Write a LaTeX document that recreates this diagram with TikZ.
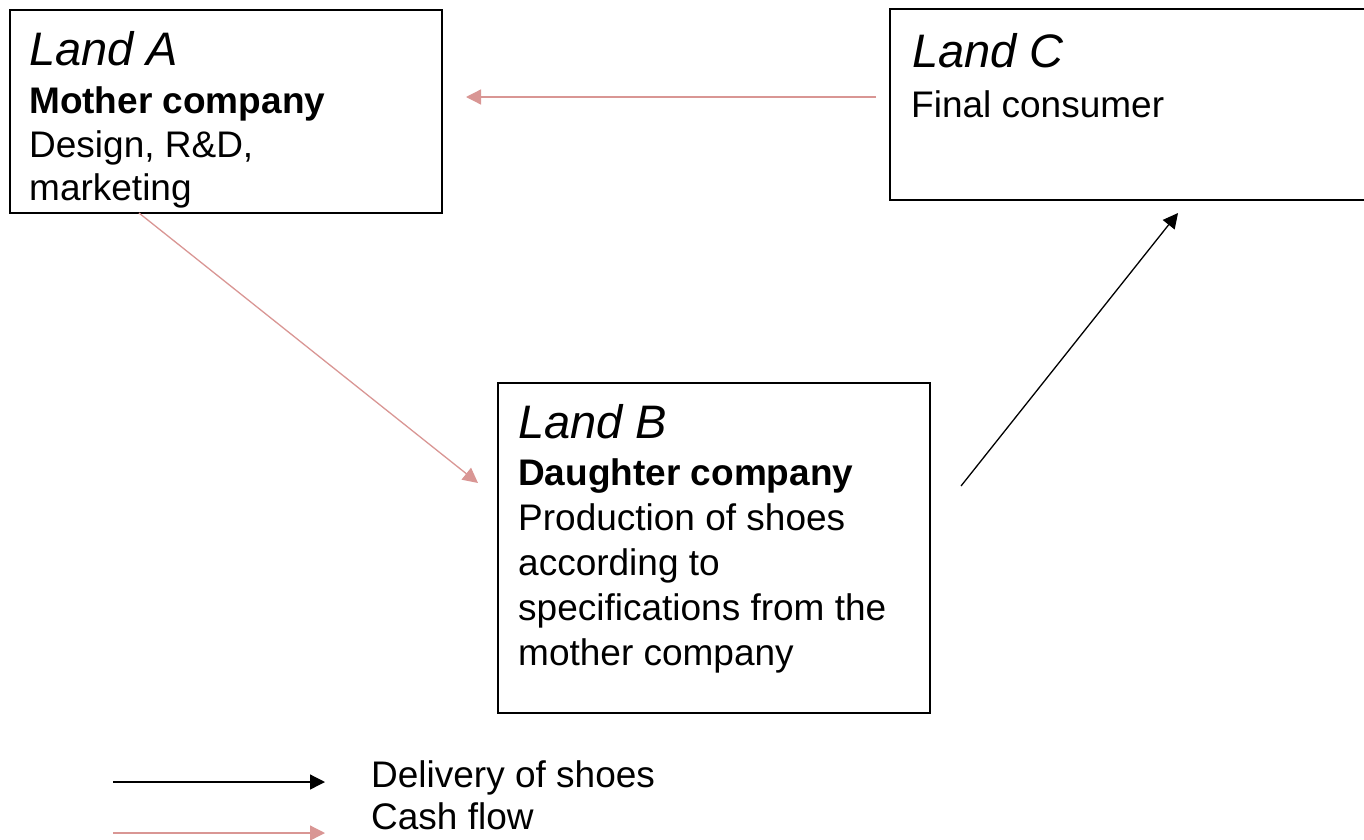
\documentclass[tikz,border=0pt]{standalone}
\usepackage{fontspec}
\setmainfont{Liberation Sans}
\usetikzlibrary{arrows.meta}
\definecolor{cash}{HTML}{D99694}
\tikzset{
 box/.style={draw=black, line width=1.5pt, rectangle, anchor=north west, inner sep=0pt},
 txt/.style={anchor=base west, inner sep=0pt, font=\fontsize{37}{43}\selectfont},
 hd/.style={anchor=base west, inner sep=0pt, font=\fontsize{37}{43}\selectfont\bfseries},
 land/.style={anchor=base west, inner sep=0pt, font=\fontsize{47}{54}\selectfont\itshape},
 cashflow/.style={draw=cash, line width=1.3pt, -{Triangle[length=15pt,width=15pt]}},
 delivery/.style={draw=black, line width=1.3pt, -{Triangle[length=15pt,width=15pt]}},
}
\begin{document}
\begin{tikzpicture}[x=1pt,y=-1pt]
\useasboundingbox (0,0) rectangle (1364,839);
% boxes
\node[box, minimum width=432pt, minimum height=203pt] (A) at (9,9) {};
\node[box, minimum width=481pt, minimum height=191pt] (C) at (889,8) {};
\node[box, minimum width=432pt, minimum height=330pt] (B) at (497,382) {};
% texts in A
\node[land] (A1) at (29,65) {Land A};
\node[hd]   (A2) at (29,113) {Mother company};
\node[txt]  (A3) at (29,157) {Design, R\&D,};
\node[txt]  (A4) at (29,200) {marketing};
% texts in C
\node[land] (C1) at (912,67) {Land C};
\node[txt]  (C2) at (911,117) {Final consumer};
% texts in B
\node[land] (B1) at (518,438) {Land B};
\node[hd]   (B2) at (518,485) {Daughter company};
\node[txt]  (B3) at (518,530) {Production of shoes};
\node[txt]  (B4) at (518,575) {according to};
\node[txt]  (B5) at (518,620) {specifications from the};
\node[txt]  (B6) at (518,665) {mother company};
% connectors
\coordinate (cA) at (876,97);
\coordinate (aC) at (466,97);
\coordinate (aB) at (139,213);
\coordinate (bA) at (478,483);
\coordinate (bC) at (961,486);
\coordinate (cB) at (1178,213);
\draw[cashflow] (cA) -- (aC);
\draw[cashflow] (aB) -- (bA);
\draw[delivery] (bC) -- (cB);
% legend
\coordinate (l1s) at (113,782);
\coordinate (l1e) at (325,782);
\coordinate (l2s) at (113,833);
\coordinate (l2e) at (325,833);
\draw[delivery] (l1s) -- (l1e);
\draw[cashflow] (l2s) -- (l2e);
\node[txt] (L1) at (371,787) {Delivery of shoes};
\node[txt] (L2) at (371,829) {Cash flow};
\end{tikzpicture}
\end{document}
